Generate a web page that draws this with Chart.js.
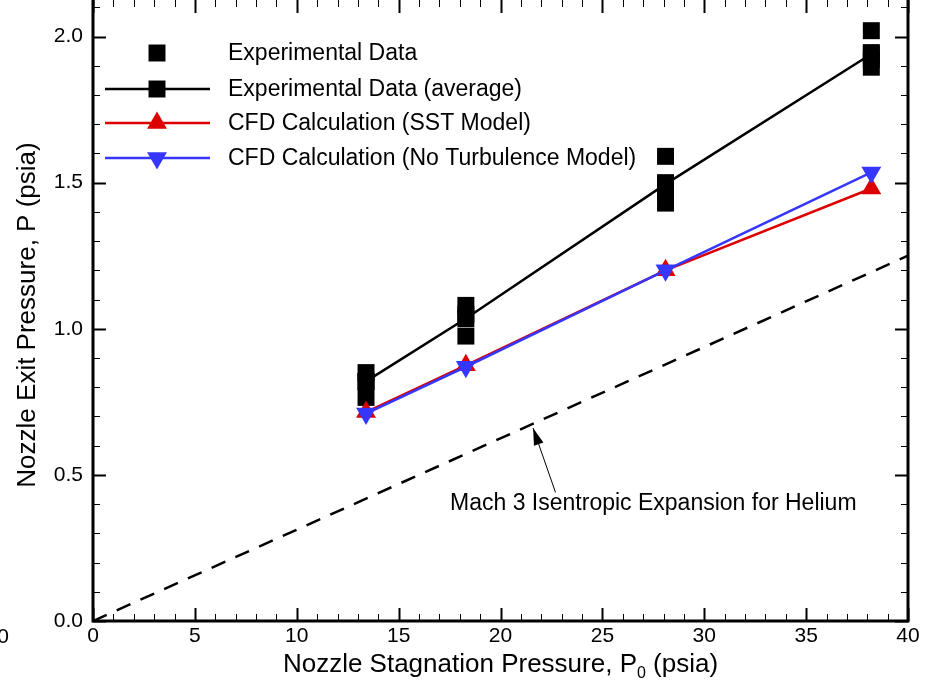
<!DOCTYPE html>
<html>
<head>
<meta charset="utf-8">
<title>Nozzle Exit Pressure</title>
<script src="https://cdn.jsdelivr.net/npm/chart.js@4.4.0/dist/chart.umd.min.js"></script>
<style>
  html, body { margin: 0; padding: 0; background: #fff; }
  #wrap { width: 928px; height: 682px; }
</style>
</head>
<body>
<div id="wrap"><canvas id="chart" width="928" height="682"></canvas></div>
<script>
// stagnation pressure of each test condition (psia)
const p0 = [13.4, 18.3, 28.1, 38.2];

// individual experimental runs
const expX = [13.4, 13.4, 13.4, 18.3, 18.3, 18.3, 28.1, 28.1, 28.1, 28.1, 38.2, 38.2, 38.2, 38.2];
const expY = [0.85, 0.82, 0.765, 1.08, 1.05, 0.975, 1.59, 1.50, 1.47, 1.43, 2.02, 1.945, 1.92, 1.895];

// averaged experiment and CFD results (psia)
const expAvg = [0.82, 1.035, 1.495, 1.94];
const cfdSST = [0.715, 0.875, 1.20, 1.48];
const cfdNoTurb = [0.71, 0.87, 1.20, 1.535];

// Mach 3 isentropic line for helium
const isenX = [0, 40];
const isenY = [0, 1.25];

const xTickStep = 5, xMinorStep = 1;
const yTickStep = 0.5, yMinorStep = 0.1;

const FONT = '"Liberation Sans", Arial, Helvetica, sans-serif';
const RED = '#dd0000';
const BLUE = '#3636ff';

function pts(xs, ys) {
    return xs.map((x, i) => ({ x: x, y: ys[i] }));
}

// frame, inward ticks, legend, titles and the annotation
const decorPlugin = {
    id: 'decor',
    afterDraw(chart) {
        const ctx = chart.ctx;
        const area = chart.chartArea;
        const xs = chart.scales.x;
        const ys = chart.scales.y;
        ctx.save();
        ctx.strokeStyle = '#000';
        ctx.fillStyle = '#000';

        // ticks on all four sides, pointing into the plot
        function tick(x1, y1, x2, y2, w) {
            ctx.lineWidth = w;
            ctx.beginPath();
            ctx.moveTo(x1, y1);
            ctx.lineTo(x2, y2);
            ctx.stroke();
        }
        for (let v = xs.min; v <= xs.max + 1e-9; v += xMinorStep) {
            const px = Math.round(xs.getPixelForValue(v)) + 0.5;
            const major = Math.abs(v / xTickStep - Math.round(v / xTickStep)) < 1e-6;
            const len = major ? 13 : 7;
            tick(px, area.bottom, px, area.bottom - len, major ? 2 : 1);
            tick(px, area.top, px, area.top + len, major ? 2 : 1);
        }
        for (let v = 0; v <= ys.max + 1e-9; v += yMinorStep) {
            const py = Math.round(ys.getPixelForValue(v)) + 0.5;
            const major = Math.abs(v / yTickStep - Math.round(v / yTickStep)) < 1e-6;
            const len = major ? 13 : 7;
            tick(area.left, py, area.left + len, py, major ? 2 : 1);
            tick(area.right, py, area.right - len, py, major ? 2 : 1);
        }

        // frame
        ctx.lineWidth = 3;
        ctx.beginPath();
        ctx.moveTo(area.left, area.top - 5);
        ctx.lineTo(area.left, area.bottom);
        ctx.lineTo(area.right, area.bottom);
        ctx.lineTo(area.right, area.top - 5);
        ctx.stroke();

        // legend
        const ds = chart.data.datasets;
        const rows = [
            { d: ds[1], y: 53, line: false },
            { d: ds[2], y: 89, line: true },
            { d: ds[3], y: 123, line: true },
            { d: ds[4], y: 158, line: true }
        ];
        ctx.font = '23px ' + FONT;
        ctx.textBaseline = 'middle';
        ctx.textAlign = 'left';
        rows.forEach(r => {
            const d = r.d;
            if (r.line) {
                ctx.strokeStyle = d.borderColor;
                ctx.lineWidth = d.borderWidth;
                ctx.beginPath();
                ctx.moveTo(105, r.y);
                ctx.lineTo(210, r.y);
                ctx.stroke();
            }
            ctx.fillStyle = d.pointBackgroundColor;
            Chart.helpers.drawPoint(ctx, {
                pointStyle: d.pointStyle,
                radius: d.pointRadius,
                rotation: d.pointRotation || 0,
                borderWidth: 0
            }, 157, r.y);
            ctx.fillStyle = '#000';
            ctx.fillText(d.label, 228, r.y + 1);
        });

        // annotation arrow to the isentropic line
        const tipX = xs.getPixelForValue(21.6), tipY = ys.getPixelForValue(0.66);
        const tailX = xs.getPixelForValue(22.7), tailY = ys.getPixelForValue(0.44);
        const ang = Math.atan2(tipY - tailY, tipX - tailX);
        ctx.strokeStyle = '#000';
        ctx.lineWidth = 1;
        ctx.beginPath();
        ctx.moveTo(tailX, tailY);
        ctx.lineTo(tipX, tipY);
        ctx.stroke();
        ctx.beginPath();
        ctx.moveTo(tipX, tipY);
        ctx.lineTo(tipX - 17 * Math.cos(ang) + 5 * Math.sin(ang), tipY - 17 * Math.sin(ang) - 5 * Math.cos(ang));
        ctx.lineTo(tipX - 17 * Math.cos(ang) - 5 * Math.sin(ang), tipY - 17 * Math.sin(ang) + 5 * Math.cos(ang));
        ctx.closePath();
        ctx.fill();
        ctx.font = '23px ' + FONT;
        ctx.textAlign = 'center';
        ctx.fillText('Mach 3 Isentropic Expansion for Helium', xs.getPixelForValue(27.5), ys.getPixelForValue(0.40));

        // x axis title with subscript
        const cx = (area.left + area.right) / 2;
        const ty = 665;
        const partA = 'Nozzle Stagnation Pressure, P';
        const partB = ' (psia)';
        ctx.font = '26px ' + FONT;
        const wA = ctx.measureText(partA).width;
        const wB = ctx.measureText(partB).width;
        ctx.font = '16px ' + FONT;
        const wS = ctx.measureText('0').width;
        const x0 = cx - (wA + wS + wB) / 2;
        ctx.textAlign = 'left';
        ctx.font = '26px ' + FONT;
        ctx.fillText(partA, x0, ty);
        ctx.font = '16px ' + FONT;
        ctx.fillText('0', x0 + wA, ty + 9);
        ctx.font = '26px ' + FONT;
        ctx.fillText(partB, x0 + wA + wS, ty);

        // y axis title
        ctx.save();
        ctx.translate(28, 315);
        ctx.rotate(-Math.PI / 2);
        ctx.textAlign = 'center';
        ctx.fillText('Nozzle Exit Pressure, P (psia)', 0, 0);
        ctx.restore();

        // clipped tick label at the far left edge
        ctx.font = '21px ' + FONT;
        ctx.textAlign = 'right';
        ctx.fillText('0', 9, 637);

        ctx.restore();
    }
};

new Chart(document.getElementById('chart'), {
    type: 'scatter',
    data: {
        datasets: [
            {
                label: 'Mach 3 Isentropic Expansion for Helium',
                data: pts(isenX, isenY),
                showLine: true,
                borderColor: '#000',
                borderWidth: 2.5,
                borderDash: [15, 11],
                pointRadius: 0,
                order: 4
            },
            {
                label: 'Experimental Data',
                data: pts(expX, expY),
                showLine: false,
                pointStyle: 'rect',
                pointRadius: 12,
                pointBackgroundColor: '#000',
                pointBorderWidth: 0,
                order: 3
            },
            {
                label: 'Experimental Data (average)',
                data: pts(p0, expAvg),
                showLine: true,
                borderColor: '#000',
                borderWidth: 2.5,
                pointStyle: 'rect',
                pointRadius: 12,
                pointBackgroundColor: '#000',
                pointBorderWidth: 0,
                order: 2
            },
            {
                label: 'CFD Calculation (SST Model)',
                data: pts(p0, cfdSST),
                showLine: true,
                borderColor: RED,
                borderWidth: 2.5,
                pointStyle: 'triangle',
                pointRadius: 11.5,
                pointBackgroundColor: RED,
                pointBorderWidth: 0,
                order: 1
            },
            {
                label: 'CFD Calculation (No Turbulence Model)',
                data: pts(p0, cfdNoTurb),
                showLine: true,
                borderColor: BLUE,
                borderWidth: 2.5,
                pointStyle: 'triangle',
                pointRotation: 180,
                pointRadius: 11.5,
                pointBackgroundColor: BLUE,
                pointBorderWidth: 0,
                order: 0
            }
        ]
    },
    options: {
        responsive: false,
        animation: false,
        layout: { autoPadding: false, padding: { left: 0, right: 20, top: 0, bottom: 0 } },
        plugins: {
            legend: { display: false },
            tooltip: { enabled: false }
        },
        scales: {
            x: {
                type: 'linear',
                min: 0,
                max: 40,
                grid: { display: false, drawTicks: false },
                border: { display: false },
                ticks: {
                    stepSize: xTickStep,
                    padding: 3,
                    color: '#000',
                    font: { family: FONT, size: 21 },
                    maxRotation: 0
                },
                afterFit(scale) {
                    scale.height = 61;
                    scale.paddingLeft = 0;
                    scale.paddingRight = 0;
                }
            },
            y: {
                type: 'linear',
                min: 0,
                max: 2.125,
                grid: { display: false, drawTicks: false },
                border: { display: false },
                ticks: {
                    stepSize: yTickStep,
                    includeBounds: false,
                    padding: 10,
                    color: '#000',
                    font: { family: FONT, size: 21 },
                    callback: v => v.toFixed(1)
                },
                afterFit(scale) {
                    scale.width = 93;
                    scale.paddingTop = 0;
                    scale.paddingBottom = 0;
                }
            }
        }
    },
    plugins: [decorPlugin]
});
</script>
</body>
</html>
